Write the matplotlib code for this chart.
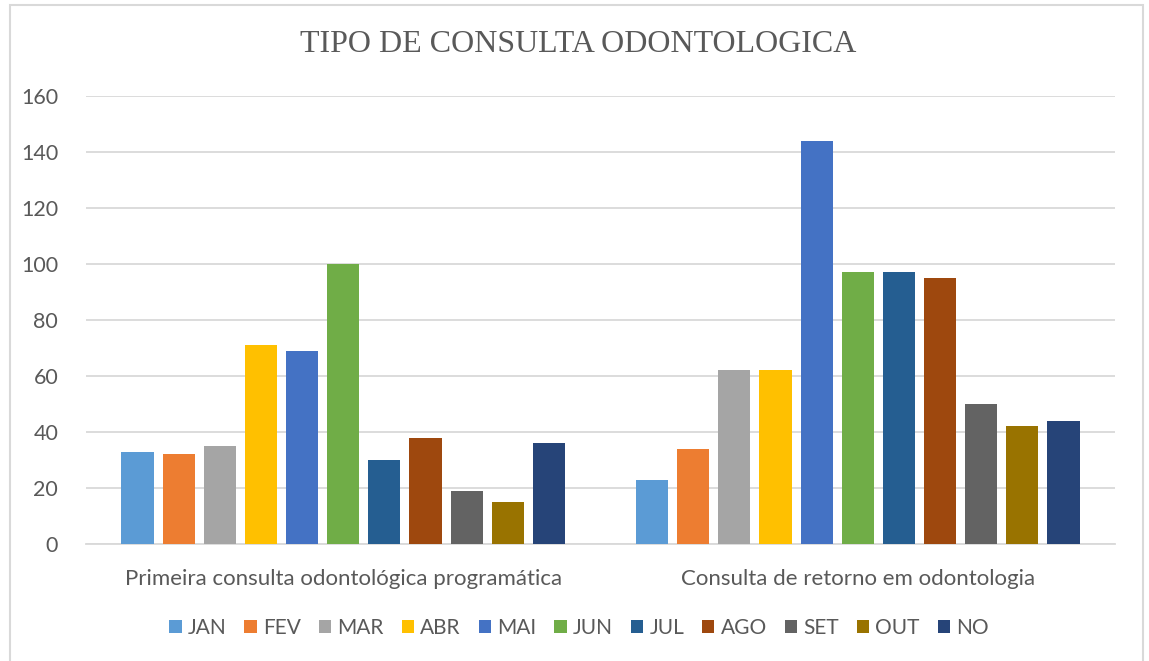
import numpy as np
import matplotlib.pyplot as plt
from matplotlib.patches import Rectangle

# dados
categorias = ['Primeira consulta odontológica programática',
              'Consulta de retorno em odontologia']
meses = ['JAN', 'FEV', 'MAR', 'ABR', 'MAI', 'JUN', 'JUL', 'AGO', 'SET', 'OUT', 'NO']
primeira = [33, 32, 35, 71, 69, 100, 30, 38, 19, 15, 36]
retorno = [23, 34, 62, 62, 144, 97, 97, 95, 50, 42, 44]
cores = ['#5B9BD5', '#ED7D31', '#A5A5A5', '#FFC000', '#4472C4', '#70AD47',
         '#255E91', '#9E480E', '#636363', '#997300', '#264478']
yticks = [0, 20, 40, 60, 80, 100, 120, 140, 160]

plt.rcParams['font.family'] = ['Lato', 'DejaVu Sans']

W, H = 1149, 661
fig = plt.figure(figsize=(W/100, H/100), dpi=100)
ax = fig.add_axes([86/W, 1-544/H, (1115-86)/W, (544-96)/H])

x = np.arange(len(categorias))
passo = 0.08
largura = 0.0625
for i, mes in enumerate(meses):
    ax.bar(x + (i-5)*passo, [primeira[i], retorno[i]], width=largura,
           color=cores[i], label=mes, zorder=3)

ax.set_xlim(-0.5, 1.5)
ax.set_ylim(0, 160)
ax.set_yticks(yticks)
ax.set_xticks(x)
ax.set_xticklabels(categorias, fontsize=16)
ax.tick_params(axis='both', length=0, labelcolor='#595959')
ax.tick_params(axis='y', pad=20, labelsize=15.5)
ax.tick_params(axis='x', pad=18)
ax.grid(axis='y', color='#D9D9D9', linewidth=1.3, zorder=0)
for s in ['top', 'right', 'left']:
    ax.spines[s].set_visible(False)
ax.spines['bottom'].set_color('#D9D9D9')
ax.spines['bottom'].set_linewidth(1.3)

fig.text(0.503, 1-45/H, 'TIPO DE CONSULTA ODONTOLOGICA', ha='center', va='center',
         fontsize=23, color='#595959', family='Liberation Serif')

fig.legend(loc='center', bbox_to_anchor=(0.504, 1-628/H), ncol=11, frameon=False,
           fontsize=15, labelcolor='#595959', handlelength=0.6, handleheight=0.6,
           handletextpad=0.3, columnspacing=0.85)

fig.patches.append(Rectangle((10/W, -0.01), (1143-10)/W, 1-5/H+0.01,
                             transform=fig.transFigure, fill=False,
                             edgecolor='#D9D9D9', linewidth=1.5))

plt.savefig('out.png', dpi=100)
